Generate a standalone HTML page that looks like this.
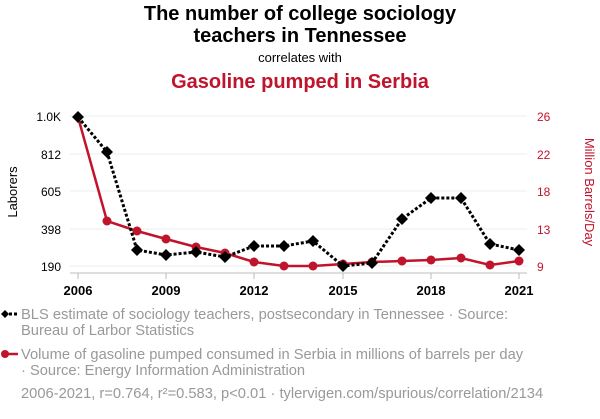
<!DOCTYPE html>
<html><head><meta charset="utf-8"><style>
body{margin:0;background:#fff;width:600px;height:414px;overflow:hidden;font-family:"Liberation Sans",sans-serif}
</style></head><body>
<svg width="600" height="414" xmlns="http://www.w3.org/2000/svg" font-family="Liberation Sans, sans-serif">
<text x="300" y="20" text-anchor="middle" font-size="20" font-weight="bold" fill="#000">The number of college sociology</text>
<text x="300" y="42" text-anchor="middle" font-size="20" font-weight="bold" fill="#000">teachers in Tennessee</text>
<text x="300" y="62" text-anchor="middle" font-size="13" fill="#000">correlates with</text>
<text x="300" y="88" text-anchor="middle" font-size="20" font-weight="bold" fill="#c0142c">Gasoline pumped in Serbia</text>
<g stroke="#eee" stroke-width="1">
<line x1="70" x2="527" y1="116" y2="116"/><line x1="70" x2="527" y1="154" y2="154"/><line x1="70" x2="527" y1="191" y2="191"/><line x1="70" x2="527" y1="229" y2="229"/><line x1="70" x2="527" y1="266" y2="266"/>
</g>
<line x1="70" x2="527" y1="273" y2="273" stroke="#bbb"/>
<g stroke="#bbb"><line x1="78" x2="78" y1="273" y2="279"/><line x1="166" x2="166" y1="273" y2="279"/><line x1="254" x2="254" y1="273" y2="279"/><line x1="343" x2="343" y1="273" y2="279"/><line x1="431" x2="431" y1="273" y2="279"/><line x1="519" x2="519" y1="273" y2="279"/></g>
<g font-size="13" font-weight="bold" text-anchor="middle" fill="#000">
<text x="78" y="295">2006</text><text x="166" y="295">2009</text><text x="254" y="295">2012</text><text x="343" y="295">2015</text><text x="431" y="295">2018</text><text x="519" y="295">2021</text></g>
<g font-size="12" text-anchor="end" fill="#000">
<text x="61" y="121">1.0K</text><text x="61" y="159">812</text><text x="61" y="196">605</text><text x="61" y="234">398</text><text x="61" y="271">190</text></g>
<g font-size="12" fill="#c0142c">
<text x="537" y="121">26</text><text x="537" y="159">22</text><text x="537" y="196">18</text><text x="537" y="234">13</text><text x="537" y="271">9</text></g>
<text transform="translate(17,192) rotate(-90)" text-anchor="middle" font-size="13" fill="#000">Laborers</text>
<text transform="translate(585,192) rotate(90)" text-anchor="middle" font-size="13" fill="#c0142c">Million Barrels/Day</text>
<polyline fill="none" stroke="#c0142c" stroke-width="2.5" points="78,117 107,221 137,231 166,239 196,247 225,253 254,262 284,266 313,266 343,264 372,262 402,261 431,260 461,258 490,265 519,261"/>
<g fill="#c0142c">
<circle cx="107" cy="221" r="4.5"/><circle cx="137" cy="231" r="4.5"/><circle cx="166" cy="239" r="4.5"/><circle cx="196" cy="247" r="4.5"/><circle cx="225" cy="253" r="4.5"/><circle cx="254" cy="262" r="4.5"/><circle cx="284" cy="266" r="4.5"/><circle cx="313" cy="266" r="4.5"/><circle cx="343" cy="264" r="4.5"/><circle cx="372" cy="262" r="4.5"/><circle cx="402" cy="261" r="4.5"/><circle cx="431" cy="260" r="4.5"/><circle cx="461" cy="258" r="4.5"/><circle cx="490" cy="265" r="4.5"/><circle cx="519" cy="261" r="4.5"/></g>
<polyline fill="none" stroke="#000" stroke-width="3" stroke-dasharray="3,2" points="78,117 107,152 137,250 166,255 196,252 225,257 254,246 284,246 313,241 343,266 372,263 402,219 431,198 461,198 490,244 519,250"/>
<g fill="#000">
<path d="M78,111 l6,6 -6,6 -6,-6z"/><path d="M107,146 l6,6 -6,6 -6,-6z"/><path d="M137,244 l6,6 -6,6 -6,-6z"/><path d="M166,249 l6,6 -6,6 -6,-6z"/><path d="M196,246 l6,6 -6,6 -6,-6z"/><path d="M225,251 l6,6 -6,6 -6,-6z"/><path d="M254,240 l6,6 -6,6 -6,-6z"/><path d="M284,240 l6,6 -6,6 -6,-6z"/><path d="M313,235 l6,6 -6,6 -6,-6z"/><path d="M343,260 l6,6 -6,6 -6,-6z"/><path d="M372,257 l6,6 -6,6 -6,-6z"/><path d="M402,213 l6,6 -6,6 -6,-6z"/><path d="M431,192 l6,6 -6,6 -6,-6z"/><path d="M461,192 l6,6 -6,6 -6,-6z"/><path d="M490,238 l6,6 -6,6 -6,-6z"/><path d="M519,244 l6,6 -6,6 -6,-6z"/></g>
<line x1="4" x2="18" y1="314" y2="314" stroke="#000" stroke-width="3" stroke-dasharray="3,2"/>
<path d="M5,310 l4,4 -4,4 -4,-4z" fill="#000"/>
<g font-size="14.7" fill="#999">
<text x="21" y="319">BLS estimate of sociology teachers, postsecondary in Tennessee · Source:</text>
<text x="21" y="335">Bureau of Larbor Statistics</text>
<text x="21" y="359">Volume of gasoline pumped consumed in Serbia in millions of barrels per day</text>
<text x="21" y="375">· Source: Energy Information Administration</text>
<text x="21" y="398">2006-2021, r=0.764, r²=0.583, p&lt;0.01 · tylervigen.com/spurious/correlation/2134</text>
</g>
<line x1="4" x2="18" y1="354" y2="354" stroke="#c0142c" stroke-width="2.5"/>
<circle cx="5" cy="354" r="4" fill="#c0142c"/>
</svg>
</body></html>
